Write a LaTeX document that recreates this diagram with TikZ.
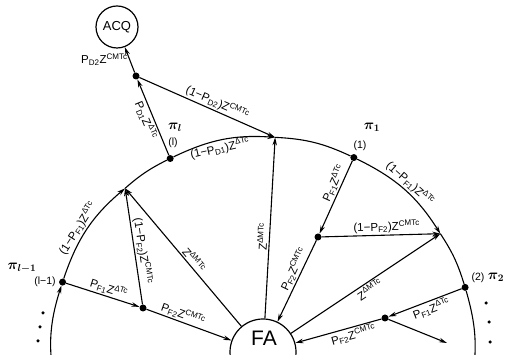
\documentclass[tikz,border=0pt]{standalone}
\usepackage{fontspec}
\setmainfont{Liberation Sans}
\usepackage{amsmath}
\usetikzlibrary{arrows.meta}

\newcommand{\pz}[2]{P\textsubscript{#1}Z\textsuperscript{#2}}
\newcommand{\qz}[2]{(1−P\textsubscript{#1})Z\textsuperscript{#2}}

\begin{document}
\begin{tikzpicture}[x=1pt, y=1pt,
    >={Stealth[length=8pt,width=4.5pt]},
    state/.style={circle, fill=black, inner sep=0pt, minimum size=7pt},
    dotty/.style={circle, fill=black, inner sep=0pt, minimum size=3.5pt},
    bigc/.style={circle, draw, line width=1.2pt, inner sep=0pt},
    arr/.style={->, line width=1.1pt},
    plain/.style={line width=1.1pt},
    lbl/.style={font=\fontsize{11.5}{13}\selectfont, inner sep=1.5pt},
    pilbl/.style={font=\fontsize{14}{16}\selectfont\boldmath},
    idx/.style={font=\fontsize{10.5}{12}\selectfont}
  ]
  \useasboundingbox (0,0) rectangle (516,355);
  \clip (0,0) rectangle (516,355);

  %--- centre and absorbing state ---
  \node[bigc, minimum size=66pt] (fa) at (263,3) {};
  \node[font=\fontsize{21}{23}\selectfont] (fatxt) at (264,17) {FA};
  \node[bigc, minimum size=42pt, font=\fontsize{13}{15}\selectfont] (acq) at (117,328) {ACQ};

  %--- states on the ring ---
  \node[state] (lm1) at ([shift={(263,7)}]161.8:211) {};
  \coordinate (jb) at ([shift={(263,7)}]130.8:211);
  \node[state] (l) at ([shift={(263,7)}]116.1:211) {};
  \coordinate (jt) at ([shift={(263,7)}]86.7:211);
  \node[state] (one) at ([shift={(263,7)}]64.5:211) {};
  \coordinate (je) at ([shift={(263,7)}]32.8:211);
  \node[state] (two) at ([shift={(263,7)}]16.7:211) {};
  \coordinate (lbot) at ([shift={(263,7)}]192:211);
  \coordinate (rbot) at ([shift={(263,7)}]-12:211);

  %--- inner split nodes ---
  \node[state] (g) at (136,279) {};
  \node[state] (h) at (143,47) {};
  \node[state] (i) at (318,118) {};
  \node[state] (j) at (385,37) {};
  \coordinate (jout) at (447,12);

  %--- ring ---
  \draw[arr] (lbot) to[bend left=15.1] (lm1);
  \draw[arr] (lm1) to[bend left=15.5]
    node[lbl, sloped, above, pos=0.45]{\qz{F1}{ΔTc}} (jb);
  \draw[plain] (jb) to[bend left=7.35] (l);
  \draw[arr] (l) to[bend left=14.7]
    node[lbl, sloped, below, pos=0.45]{\qz{D1}{ΔTc}} (jt);
  \draw[plain] (jt) to[bend left=11.1] (one);
  \draw[arr] (one) to[bend left=15.85]
    node[lbl, sloped, above, pos=0.5]{\qz{F1}{ΔTc}} (je);
  \draw[plain] (je) to[bend left=8.05] (two);
  \draw[plain] (two) to[bend left=14.35] (rbot);

  %--- state l-1 ---
  \draw[arr] (lm1) -- node[lbl, sloped, above, pos=0.55]{\pz{F1}{ΔTc}} (h);
  \draw[arr] (h) -- node[lbl, sloped, above, pos=0.4]{\pz{F2}{CMTc}} (fa);
  \draw[arr] (h) -- node[lbl, sloped, above, pos=0.45]{\qz{F2}{CMTc}} (jb);
  \draw[arr] (fa) -- node[lbl, sloped, above, pos=0.45]{Z\textsuperscript{ΔMTc}} (jb);

  %--- state l ---
  \draw[arr] (l) -- node[lbl, sloped, below]{\pz{D1}{ΔTc}} (g);
  \draw[arr] (g) -- node[lbl, left, pos=0.5]{\pz{D2}{CMTc}} (acq);
  \draw[arr] (g) -- node[lbl, sloped, above, pos=0.55]{\qz{D2}{CMTc}} (jt);
  \draw[arr] (fa) -- node[lbl, sloped, above, pos=0.45]{Z\textsuperscript{ΔMTc}} (jt);

  %--- state 1 ---
  \draw[arr] (one) -- node[lbl, sloped, above, pos=0.35]{\pz{F1}{ΔTc}} (i);
  \draw[arr] (i) -- node[lbl, sloped, above, pos=0.4]{\pz{F2}{CMTc}} (fa);
  \draw[arr] (i) -- node[lbl, sloped, above, pos=0.55]{\qz{F2}{CMTc}} (je);
  \draw[arr] (fa) -- node[lbl, sloped, below, pos=0.5]{Z\textsuperscript{ΔMTc}} (je);

  %--- state 2 ---
  \draw[arr] (two) -- node[lbl, sloped, below, pos=0.45]{\pz{F1}{ΔTc}} (j);
  \draw[arr] (j) -- node[lbl, sloped, below, pos=0.35]{\pz{F2}{CMTc}} (fa);
  \draw[arr] (j) -- (jout);

  %--- state names ---
  \node[pilbl] (pil) at (175,228) {$\pi_l$};
  \node[idx] (lidx) at (173,212) {(l)};
  \node[pilbl] (pione) at (372,228) {$\pi_1$};
  \node[idx] (oneidx) at (360,209) {(1)};
  \node[pilbl] (pilm) at (22,87) {$\pi_{l-1}$};
  \node[idx] (lmidx) at (45,73) {(l−1)};
  \node[pilbl] (pitwo) at (496,78) {$\pi_2$};
  \node[idx] (twoidx) at (478,77) {(2)};

  %--- continuation dots ---
  \foreach \xx/\yy [count=\k] in {43/42, 40/28, 38/14}
    \node[dotty] (ld\k) at (\xx,\yy) {};
  \foreach \xx/\yy [count=\k] in {486/52, 489/33, 490/13}
    \node[dotty] (rd\k) at (\xx,\yy) {};
\end{tikzpicture}
\end{document}
